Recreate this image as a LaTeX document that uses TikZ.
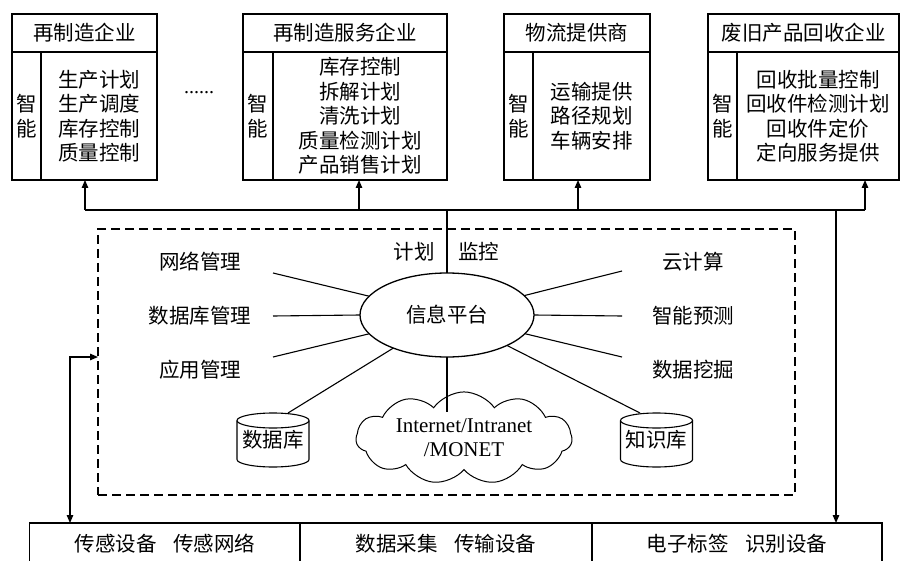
\documentclass[tikz,border=0pt]{standalone}
\usepackage{fontspec}
\setmainfont{Liberation Serif}
\newfontfamily\cjk{Noto Sans CJK SC}
\usetikzlibrary{arrows.meta,shapes.geometric,shapes.symbols}
\begin{document}
\begin{tikzpicture}[x=1pt,y=-1pt,
  every node/.style={inner sep=0pt, outer sep=0pt, font=\cjk\fontsize{20.5}{24.5}\selectfont},
  bx/.style={draw, line width=1.3pt, align=center},
  ln/.style={line width=1.3pt},
  thinln/.style={line width=1.1pt},
  arr/.style={line width=1.3pt, -{Triangle[length=8pt,width=6.5pt]}},
  arrboth/.style={line width=1.3pt, {Triangle[length=8pt,width=6.5pt]}-{Triangle[length=8pt,width=6.5pt]}},
  dashbox/.style={draw, line width=1.3pt, dash pattern=on 9pt off 5pt},
  lbl/.style={align=center},
  cyl/.style={minimum width=72pt, minimum height=54pt},
]
\useasboundingbox (0,0) rectangle (901,561);
\clip (0,0) rectangle (901,561);

% ---- top boxes ----
\node[bx, minimum width=145pt, minimum height=38pt] (t1) at (84.5,33) {再制造企业};
\node[bx, minimum width=29pt, minimum height=128pt] (s1) at (26.5,116) {智\\能};
\node[bx, minimum width=116pt, minimum height=128pt] (b1) at (99,116) {生产计划\\生产调度\\库存控制\\质量控制};

\node[bx, minimum width=204pt, minimum height=38pt] (t2) at (345,33) {再制造服务企业};
\node[bx, minimum width=30pt, minimum height=128pt] (s2) at (258,116) {智\\能};
\node[bx, minimum width=174pt, minimum height=128pt] (b2) at (360,116) {库存控制\\拆解计划\\清洗计划\\质量检测计划\\产品销售计划};

\node[bx, minimum width=146pt, minimum height=38pt] (t3) at (577,33) {物流提供商};
\node[bx, minimum width=29pt, minimum height=128pt] (s3) at (518.5,116) {智\\能};
\node[bx, minimum width=117pt, minimum height=128pt] (b3) at (591.5,116) {运输提供\\路径规划\\车辆安排};

\node[bx, minimum width=191pt, minimum height=38pt] (t4) at (803.5,33) {废旧产品回收企业};
\node[bx, minimum width=29pt, minimum height=128pt] (s4) at (722.5,116) {智\\能};
\node[bx, minimum width=162pt, minimum height=128pt] (b4) at (818,116) {回收批量控制\\回收件检测计划\\回收件定价\\定向服务提供};

\node (dots) at (199,93) {\rmfamily\fontsize{20}{20}\selectfont ......};

% ---- bus ----
\coordinate (bus1) at (85,210);
\coordinate (bus2) at (359,210);
\coordinate (bus3) at (578,210);
\coordinate (bus4) at (865,210);
\coordinate (busR) at (836,210);
\draw[ln] (bus1) -- (bus4);
\draw[arr] (bus1) -- (bus1 |- b1.south);
\draw[arr] (bus2) -- (bus2 |- b2.south);
\draw[arr] (bus3) -- (bus3 |- b3.south);
\draw[arr] (bus4) -- (bus4 |- b4.south);

% ---- platform ----
\node[dashbox, minimum width=697pt, minimum height=266pt] (plat) at (446.5,362) {};
\node[draw, ellipse, ln, minimum width=174pt, minimum height=84pt] (ell) at (447,315) {信息平台};
\draw[ln] (ell.north) -- (ell.north |- bus1);
\node (jh) at (414,252) {计划};
\node (jk) at (478.5,252) {监控};

\node (l1) at (200,262) {网络管理};
\node (l2) at (200,316) {数据库管理};
\node (l3) at (200,370) {应用管理};
\node (r1) at (693,262) {云计算};
\node (r2) at (693,316) {智能预测};
\node (r3) at (693,370) {数据挖掘};

\coordinate (pl1) at (273,273);
\coordinate (pl2) at (273,316);
\coordinate (pl3) at (273,357);
\coordinate (pr1) at (622,271);
\coordinate (pr2) at (622,316);
\coordinate (pr3) at (622,357);
\draw[thinln] (pl1) -- (ell);
\draw[thinln] (pl2) -- (ell.west);
\draw[thinln] (pl3) -- (ell);
\draw[thinln] (pr1) -- (ell);
\draw[thinln] (pr2) -- (ell.east);
\draw[thinln] (pr3) -- (ell);

% cylinders
\node[cyl] (db) at (273,440) {\raisebox{-5pt}{数据库}};
\draw[thinln] (237,420.5) -- (237,459.5) arc[start angle=180,end angle=360,x radius=36pt,y radius=7.5pt] -- (309,420.5);
\draw[thinln] (273,420.5) ellipse[x radius=36pt,y radius=7.5pt];
\node[cyl] (kb) at (656.5,440) {\raisebox{-5pt}{知识库}};
\draw[thinln] (620.5,420.5) -- (620.5,459.5) arc[start angle=180,end angle=360,x radius=36pt,y radius=7.5pt] -- (692.5,420.5);
\draw[thinln] (656.5,420.5) ellipse[x radius=36pt,y radius=7.5pt];
\coordinate (dbt) at (288,413);
\coordinate (kbt) at (640,413);
\draw[thinln] (dbt) -- (ell);
\draw[thinln] (kbt) -- (ell);

% cloud
\node[cloud, draw, line width=1pt, cloud puffs=11, cloud puff arc=110, aspect=2.9,
      minimum width=216pt, minimum height=70pt, align=center,
      font=\rmfamily\fontsize{21}{24}\selectfont] (cld) at (464,438) {Internet/Intranet\\/MONET};
\draw[thinln] (ell.south) -- (447,412);

% ---- bottom ----
\node[bx, minimum width=271pt, minimum height=42pt] (c1) at (165,544) {传感设备\hspace{0.8em}传感网络};
\node[bx, minimum width=292pt, minimum height=42pt] (c2) at (446,544) {数据采集\hspace{0.8em}传输设备};
\node[bx, minimum width=290pt, minimum height=42pt] (c3) at (737,544) {电子标签\hspace{0.8em}识别设备};

\coordinate (lc) at (70,357);
\draw[arrboth] (plat.west |- lc) -- (lc) -- (lc |- c1.north);
\draw[arr] (busR) -- (busR |- c3.north);
\end{tikzpicture}
\end{document}
